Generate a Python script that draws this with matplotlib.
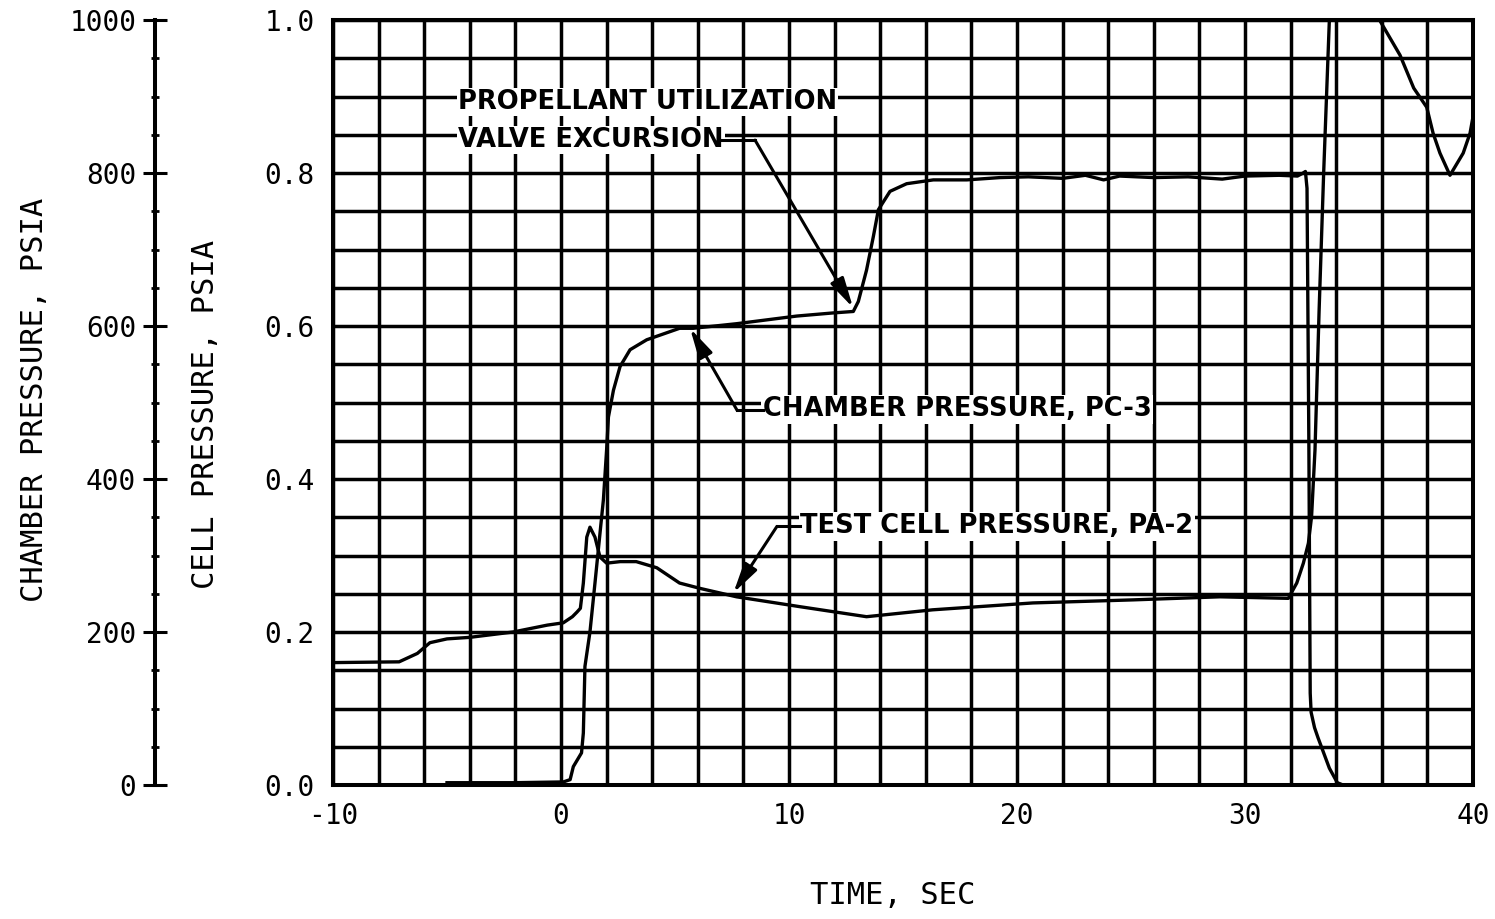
import matplotlib
matplotlib.use('Agg')
import matplotlib.pyplot as plt
import numpy as np

plt.rcParams['axes.unicode_minus'] = False
plt.rcParams['font.family'] = ['DejaVu Sans Mono']

# test cell pressure, psia
cell_time = [-10, -7.1, -6.3, -5.75, -5.0, -4.0, -2.1, -0.6, 0.1, 0.5, 0.7, 0.85,
             0.98, 1.13, 1.27, 1.49, 1.71, 2.0, 2.6, 3.3, 4.2, 5.2, 6.1, 7.7, 10.5,
             13.4, 16.3, 20.7, 25.1, 28.9, 31.9, 32.27, 32.56, 32.78, 32.92, 33.07,
             33.25, 33.45, 33.7, 33.9, 34.6, 35.3, 35.9, 36.8, 37.4, 37.97, 38.25,
             38.55, 38.99, 39.57, 39.87, 40.1]
cell_psia = [0.160, 0.161, 0.172, 0.186, 0.191, 0.193, 0.200, 0.209, 0.212, 0.220,
             0.226, 0.231, 0.264, 0.324, 0.337, 0.324, 0.298, 0.290, 0.292, 0.292,
             0.284, 0.264, 0.257, 0.246, 0.233, 0.220, 0.229, 0.238, 0.242, 0.246,
             0.244, 0.264, 0.290, 0.316, 0.351, 0.438, 0.62, 0.80, 1.0, 1.12, 1.25,
             1.15, 1.0, 0.954, 0.911, 0.886, 0.852, 0.826, 0.797, 0.826, 0.852, 0.89]

# chamber pressure PC-3, psia
chamber_time = [-5.0, -2.1, 0.1, 0.4, 0.54, 0.9, 0.98, 1.05, 1.27, 1.49, 1.71, 1.86,
                2.0, 2.08, 2.3, 2.59, 3.03, 3.76, 5.2, 5.8, 7.7, 10.34, 11.9, 12.82,
                13.04, 13.4, 13.7, 13.92, 14.43, 15.16, 16.33, 17.8, 19.25, 20.5, 22,
                23, 23.8, 24.5, 26, 27.5, 29, 30, 31.5, 32.3, 32.55, 32.65, 32.72,
                32.8, 32.86, 32.9, 33.05, 33.2, 33.45, 33.7, 34.05, 34.3, 40]
chamber_psia = [3, 3, 4, 7, 24, 42, 68, 155, 200, 264, 329, 373, 438, 481, 516, 547,
                569, 582, 597, 597, 603, 613, 617, 619, 632, 673, 717, 752, 776, 786,
                791, 791, 794, 795, 793, 797, 791, 796, 794, 795, 792, 796, 797, 796,
                800, 802, 780, 450, 120, 95, 75, 62, 42, 22, 3, 0, 0]

x_ticks = [-10, 0, 10, 20, 30, 40]
cell_ticks = [0.0, 0.2, 0.4, 0.6, 0.8, 1.0]
chamber_ticks = [0, 200, 400, 600, 800, 1000]

W, H = 1495, 919
fig = plt.figure(figsize=(W / 100, H / 100), dpi=100)
ax = fig.add_axes([333 / W, (H - 785) / H, (1473 - 333) / W, 765 / H])

ax.plot(cell_time, cell_psia, color='black', lw=2.4)
ax.plot(chamber_time, np.array(chamber_psia) / 1000.0, color='black', lw=2.4)

ax.set_xlim(-10, 40)
ax.set_ylim(0, 1)
ax.set_xticks(x_ticks)
ax.set_xticks(np.arange(-10, 41, 2), minor=True)
ax.set_yticks(cell_ticks)
ax.set_yticks(np.arange(0, 1.001, 0.05), minor=True)
ax.yaxis.set_major_formatter('{x:.1f}')
ax.grid(which='both', color='black', lw=2.5)
ax.tick_params(which='both', length=0, labelsize=20)
ax.tick_params(axis='y', pad=13)
ax.tick_params(axis='x', pad=12)
for s in ax.spines.values():
    s.set_linewidth(2.9)

# separate chamber pressure scale on the far left
cax = fig.add_axes([155 / W, (H - 785) / H, 0.0005, 765 / H])
cax.set_ylim(0, 1000)
cax.patch.set_visible(False)
for s in ['top', 'right', 'bottom']:
    cax.spines[s].set_visible(False)
cax.spines['left'].set_linewidth(2.9)
cax.set_xticks([])
cax.set_yticks(chamber_ticks)
cax.set_yticks(np.arange(0, 1001, 50), minor=True)
cax.tick_params(axis='y', which='major', direction='inout', length=17, width=2.2,
                labelsize=20, pad=5)
cax.tick_params(axis='y', which='minor', direction='inout', length=6, width=2)

fig.text(35 / W, (H - 400) / H, 'CHAMBER PRESSURE, PSIA', rotation=90,
         ha='center', va='center', fontsize=22)
fig.text(205 / W, (H - 414) / H, 'CELL PRESSURE, PSIA', rotation=90,
         ha='center', va='center', fontsize=22)
fig.text(893 / W, (H - 895) / H, 'TIME, SEC', ha='center', va='center', fontsize=22)

lab_font = dict(fontsize=18.5, fontweight='bold', family=['DejaVu Sans'],
                ha='left', va='center', zorder=4,
                bbox=dict(facecolor='white', edgecolor='none', pad=1))
arrow = dict(arrowstyle='-|>,head_length=0.9,head_width=0.22', color='black', lw=2.2,
             mutation_scale=20, shrinkA=0, shrinkB=0)

# propellant utilization valve excursion
ax.text(-4.52, 0.893, 'PROPELLANT UTILIZATION', **lab_font)
ax.text(-4.52, 0.843, 'VALVE EXCURSION', **lab_font)
ax.plot([7.0, 8.51], [0.843, 0.843], color='black', lw=2.2, zorder=5)
ax.annotate('', xy=(12.81, 0.624), xytext=(8.51, 0.843), arrowprops=arrow, zorder=5)

# chamber pressure label
ax.text(8.85, 0.491, 'CHAMBER PRESSURE, PC-3', **lab_font)
ax.plot([7.72, 8.85], [0.49, 0.49], color='black', lw=2.2, zorder=5)
ax.annotate('', xy=(5.66, 0.597), xytext=(7.72, 0.49), arrowprops=arrow, zorder=5)

# test cell pressure label
ax.text(10.5, 0.338, 'TEST CELL PRESSURE, PA-2', **lab_font)
ax.plot([9.47, 10.5], [0.338, 0.338], color='black', lw=2.2, zorder=5)
ax.annotate('', xy=(7.56, 0.251), xytext=(9.47, 0.338), arrowprops=arrow, zorder=5)

fig.savefig('out.png', dpi=100, facecolor='white')
